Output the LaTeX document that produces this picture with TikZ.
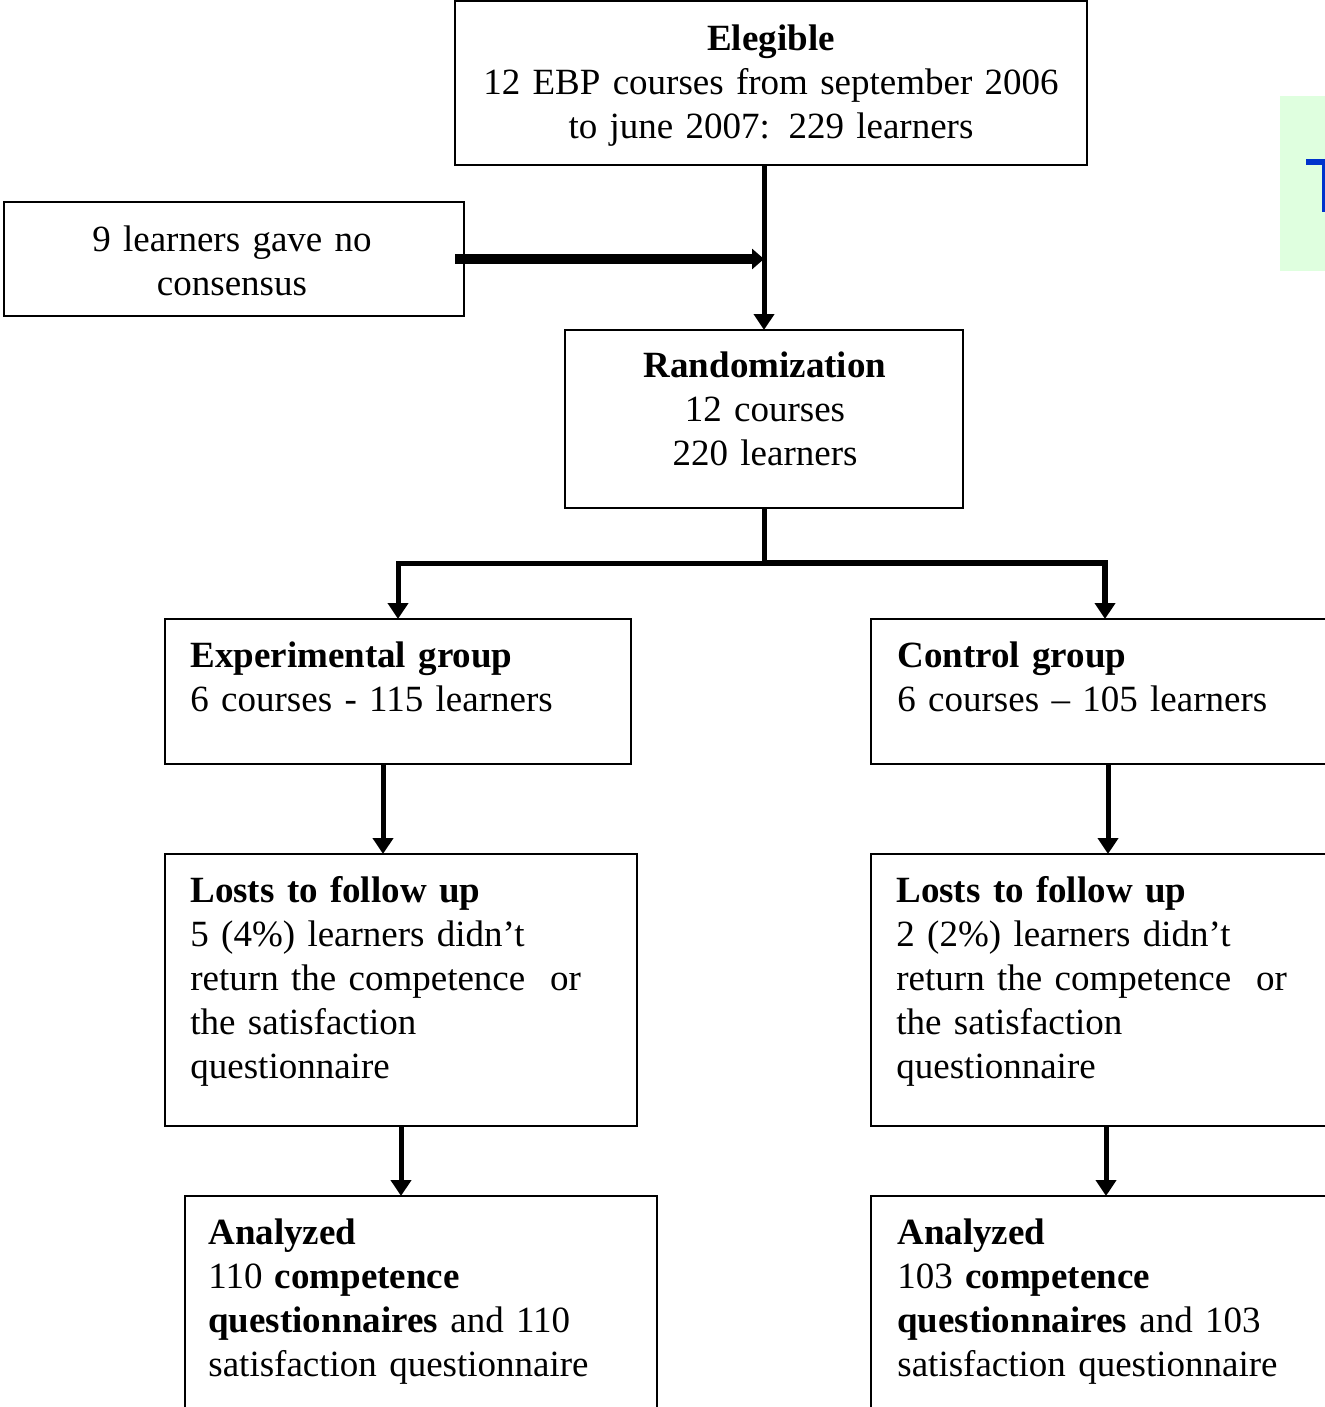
\documentclass[tikz,border=0pt]{standalone}
\usepackage{fontspec}
\setmainfont{Liberation Serif}
\usepackage{xcolor}
\usetikzlibrary{arrows.meta,positioning}

\definecolor{bggreen}{RGB}{223,255,223}
\definecolor{tblue}{RGB}{0,51,204}

\begin{document}
\begin{tikzpicture}[x=0.5pt,y=-0.5pt,
		box/.style={draw, line width=1pt, inner sep=0pt, outer sep=0pt, anchor=north west},
		txt/.style={inner sep=0pt, text width=330pt, font=\fontsize{18.5}{22}\selectfont},
		arr/.style={line width=2.5pt, -{Triangle[length=8pt,width=10pt]}}]
		\useasboundingbox (0,0) rectangle (1325,1407);
		\clip (0,0) rectangle (1325,1407);
		
		% Corner decoration
		\fill[bggreen] (1280,96) rectangle (1325,271);
		\fill[tblue] (1306,159) rectangle (1325,165);
		\fill[tblue] (1322,165) rectangle (1325,212);
		
		% Boxes
		\node[box, minimum width=316pt, minimum height=82pt] (elig) at (455,1) {};
		\node[box, minimum width=230pt, minimum height=57pt] (nocons) at (4,202) {};
		\node[box, minimum width=199pt, minimum height=89pt] (rand) at (565,330) {};
		\node[box, minimum width=233pt, minimum height=72.5pt] (exp) at (165,619) {};
		\node[box, minimum width=234pt, minimum height=72.5pt] (ctrl) at (871,619) {};
		\node[box, minimum width=236pt, minimum height=136pt] (lostl) at (165,854) {};
		\node[box, minimum width=235pt, minimum height=136pt] (lostr) at (871,854) {};
		\node[box, minimum width=236pt, minimum height=150pt] (anl) at (185,1196) {};
		\node[box, minimum width=236pt, minimum height=150pt] (anr) at (871,1196) {};
		
		% Texts
		\node[txt, align=center, anchor=base] (eligtxt) at (771,51)
			{\textbf{Elegible}\\12 EBP courses from september 2006\\to june 2007: 229 learners};
		\node[txt, align=center, anchor=base] (nocontxt) at (232,251)
			{9 learners gave no\\consensus};
		\node[txt, align=center, anchor=base] (randtxt) at (765,377)
			{\textbf{Randomization}\\12 courses\\220 learners};
		\node[txt, align=left, anchor=base west] (exptxt) at (190,667)
			{\textbf{Experimental group}\\6 courses - 115 learners};
		\node[txt, align=left, anchor=base west] (ctrltxt) at (897,667)
			{\textbf{Control group}\\6 courses -- 105 learners};
		\node[txt, align=left, anchor=base west] (lostltxt) at (190,902)
			{\textbf{Losts to follow up}\\5 (4\%) learners didn't\\return the competence\ \ or\\the satisfaction\\questionnaire};
		\node[txt, align=left, anchor=base west] (lostrtxt) at (896,902)
			{\textbf{Losts to follow up}\\2 (2\%) learners didn't\\return the competence\ \ or\\the satisfaction\\questionnaire};
		\node[txt, align=left, anchor=base west] (anltxt) at (208,1244)
			{\textbf{Analyzed}\\110 \textbf{competence}\\\textbf{questionnaires} and 110\\satisfaction questionnaire};
		\node[txt, align=left, anchor=base west] (anrtxt) at (897,1244)
			{\textbf{Analyzed}\\103 \textbf{competence}\\\textbf{questionnaires} and 103\\satisfaction questionnaire};
		
		% Arrows
		\draw[arr] (elig.south -| rand.north) -- (rand.north);
		\draw[line width=4.5pt, -{Triangle[length=6pt,width=10pt]}] ([xshift=-4.5pt]nocons.east) -- (nocons.east -| rand.north);
		\draw[line width=2.5pt] (rand.south) -- ++(0,55) coordinate (split);
		\draw[arr] (split) -| (exp.north);
		\draw[arr, line width=3pt] (split) -| (ctrl.north);
		\draw[arr] ([xshift=-7.5pt]exp.south) -- ([xshift=-7.5pt]exp.south |- lostl.north);
		\draw[arr] ([xshift=1.5pt]ctrl.south) -- ([xshift=1.5pt]ctrl.south |- lostr.north);
		\draw[arr] (lostl.south) -- (lostl.south |- anl.north);
		\draw[arr] (lostr.south) -- (lostr.south |- anr.north);
	\end{tikzpicture}
\end{document}
